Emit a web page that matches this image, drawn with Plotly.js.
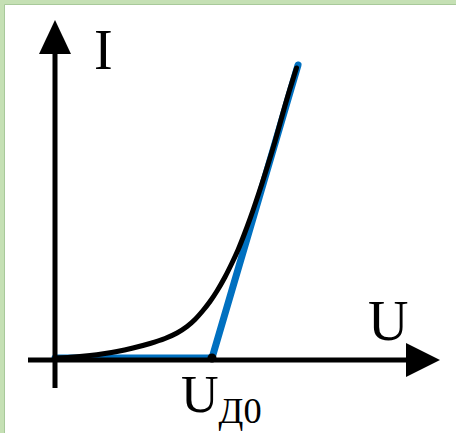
<!DOCTYPE html>
<html>
<head>
<meta charset="utf-8">
<script src="https://cdn.plot.ly/plotly-3.0.1.min.js"></script>
<style>
  html, body { margin: 0; padding: 0; background: #ffffff; }
  #chart { width: 456px; height: 433px; }
  .scatterlayer path.js-line { stroke-linecap: round; stroke-linejoin: round; }
</style>
</head>
<body>
<div id="chart"></div>
<script>
// ---- data (chart units: U along x, I along y; U_D0 = 1) ----
var curveU = [0, 0.0955, 0.2229, 0.3185, 0.3949, 0.4968, 0.6051, 0.7006, 0.7771, 0.8408, 0.8917, 0.9427, 0.9873,
              1.0318, 1.0828, 1.1274, 1.1656, 1.2038, 1.2420, 1.2803, 1.3185, 1.3567, 1.4013, 1.4490, 1.4904, 1.5382];
var curveI = [0, 0.0048, 0.0171, 0.0308, 0.0445, 0.0685, 0.0993, 0.1336, 0.1712, 0.2158, 0.2637, 0.3253, 0.3870,
              0.4589, 0.5548, 0.6507, 0.7397, 0.8425, 0.9521, 1.0719, 1.1952, 1.3253, 1.4829, 1.6678, 1.8219, 1.9863];
var approxU = [0, 1, 1.548];
var approxI = [0, 0, 2.007];
var thresholdU = [1];
var thresholdI = [0];
var labelI = "I";
var labelU = "U";
var labelUD0 = "U<sub>Д0</sub>";

// ---- layout helpers (pixel -> paper) ----
var W = 456, H = 433;
function px(x) { return x / W; }
function py(y) { return 1 - y / H; }

var traces = [
  { x: approxU, y: approxI, mode: "lines", line: { color: "#0070C0", width: 7 }, hoverinfo: "skip" },
  { x: curveU, y: curveI, mode: "lines", line: { color: "#000000", width: 5, shape: "spline", smoothing: 0.6 }, hoverinfo: "skip" },
  { x: thresholdU, y: thresholdI, mode: "markers", marker: { color: "#000000", size: 9 }, hoverinfo: "skip" }
];

var shapes = [
  // green frame (left and top)
  { type: "rect", xref: "paper", yref: "paper", x0: px(0), x1: px(4.5), y0: py(433), y1: py(0), fillcolor: "#C5E0B4", line: { width: 0 }, layer: "below" },
  { type: "rect", xref: "paper", yref: "paper", x0: px(0), x1: px(456), y0: py(4.5), y1: py(0), fillcolor: "#C5E0B4", line: { width: 0 }, layer: "below" },
  { type: "line", xref: "paper", yref: "paper", x0: px(4.5), x1: px(4.5), y0: py(433), y1: py(4.5), line: { color: "#A8C99A", width: 1 }, layer: "below" },
  { type: "line", xref: "paper", yref: "paper", x0: px(4.5), x1: px(456), y0: py(4.5), y1: py(4.5), line: { color: "#A8C99A", width: 1 }, layer: "below" },
  // vertical axis
  { type: "line", xref: "paper", yref: "paper", x0: px(55), x1: px(55), y0: py(388), y1: py(50), line: { color: "#000", width: 5 }, layer: "above" },
  { type: "path", xref: "paper", yref: "paper",
    path: "M" + px(39) + "," + py(54) + " L" + px(55) + "," + py(20) + " L" + px(71) + "," + py(54) + " Z",
    fillcolor: "#000", line: { width: 0 }, layer: "above" },
  // horizontal axis
  { type: "line", xref: "paper", yref: "paper", x0: px(28), x1: px(410), y0: py(360), y1: py(360), line: { color: "#000", width: 5 }, layer: "above" },
  { type: "path", xref: "paper", yref: "paper",
    path: "M" + px(406) + "," + py(343) + " L" + px(440) + "," + py(360) + " L" + px(406) + "," + py(377) + " Z",
    fillcolor: "#000", line: { width: 0 }, layer: "above" }
];

var serif = "Liberation Serif, Times New Roman, serif";
var annotations = [
  { xref: "paper", yref: "paper", x: px(103.5), y: py(49.5), text: labelI, showarrow: false,
    xanchor: "center", yanchor: "middle", font: { family: serif, size: 56, color: "#000" } },
  { xref: "paper", yref: "paper", x: px(387.5), y: py(320.5), text: labelU, showarrow: false,
    xanchor: "center", yanchor: "middle", font: { family: serif, size: 56, color: "#000" } },
  { xref: "paper", yref: "paper", x: px(221), y: py(398), text: labelUD0, showarrow: false,
    xanchor: "center", yanchor: "middle", font: { family: serif, size: 52, color: "#000" } }
];

var layout = {
  width: W, height: H,
  margin: { l: 0, r: 0, t: 0, b: 0, pad: 0 },
  paper_bgcolor: "#ffffff", plot_bgcolor: "#ffffff",
  showlegend: false,
  xaxis: { range: [-55 / 157, (456 - 55) / 157], visible: false, fixedrange: true },
  yaxis: { range: [(358 - 433) / 146, 358 / 146], visible: false, fixedrange: true },
  shapes: shapes,
  annotations: annotations
};

Plotly.newPlot("chart", traces, layout, { staticPlot: true, displayModeBar: false });
</script>
</body>
</html>
